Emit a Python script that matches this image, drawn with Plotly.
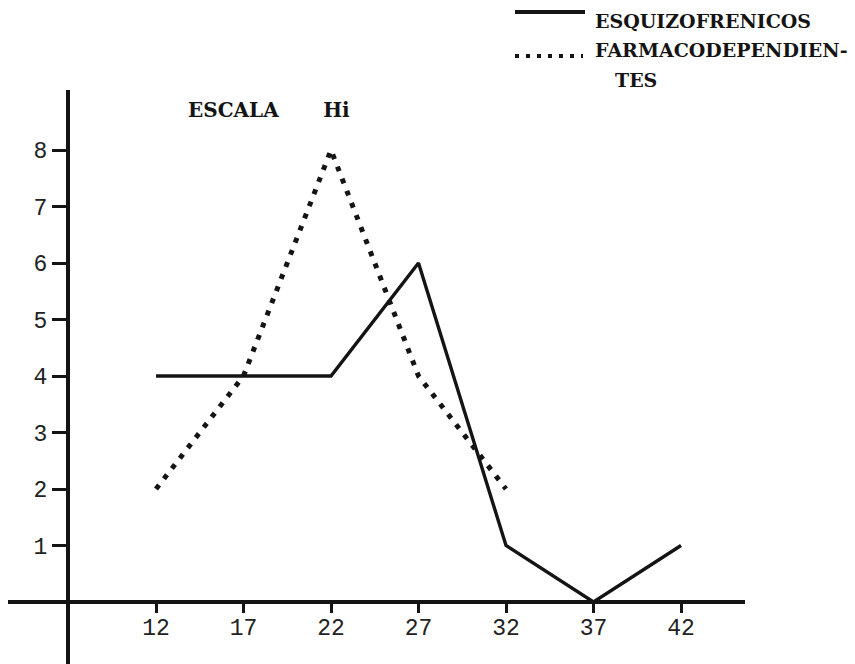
import plotly.graph_objects as go

# ---- data ----
edades = [12, 17, 22, 27, 32, 37, 42]              # x tick labels / categories
esquizofrenicos = [4, 4, 4, 6, 1, 0, 1]            # solid line
farma_x = [12, 17, 22, 27, 32]
farmacodependientes = [2, 4, 8, 4, 2]              # dotted line
y_ticks = [1, 2, 3, 4, 5, 6, 7, 8]

W, H = 855, 664

# pixel geometry of the hand-drawn axes (layout only)
px_x0, px_x1 = 8, 745        # horizontal axis extent (px)
px_ytop = 90                 # vertical axis top (px)
px_yaxis = 68                # vertical axis x position (px)
px_xaxis = 602               # horizontal axis y position (px)
sx = 17.5                    # px per x unit
sy = 56.5                    # px per y unit
x_ref_px = 156               # pixel of x = 12

x_range = [12 - (x_ref_px - px_x0) / sx, 12 + (px_x1 - x_ref_px) / sx]
y_range = [-(H - px_xaxis) / sy, (px_xaxis - px_ytop) / sy]

ink = "#141414"
digits_font = dict(family="Liberation Mono", size=23, color="#222222")
title_font = dict(family="DejaVu Serif", size=20, color=ink)
legend_font = dict(family="DejaVu Serif", size=19, color=ink)

fig = go.Figure()
fig.add_trace(go.Scatter(
    x=edades, y=esquizofrenicos, mode="lines", name="ESQUIZOFRENICOS",
    line=dict(color=ink, width=3.4), showlegend=False))
fig.add_trace(go.Scatter(
    x=farma_x, y=farmacodependientes, mode="lines", name="FARMACODEPENDIENTES",
    line=dict(color=ink, width=5, dash="5px,8px"), showlegend=False))

fig.update_layout(
    width=W, height=H,
    margin=dict(l=0, r=0, t=0, b=0, pad=0),
    paper_bgcolor="white", plot_bgcolor="white",
    showlegend=False,
    title=dict(text="<b>ESCALA</b>&nbsp;&nbsp;&nbsp;&nbsp;&nbsp;&nbsp;&nbsp;<b>Hi</b>",
               font=title_font, x=188 / W, xanchor="left",
               y=1 - 110 / H, yanchor="middle", xref="paper", yref="paper"),
    xaxis=dict(
        domain=[px_x0 / W, px_x1 / W], range=x_range,
        anchor="free", position=(H - px_xaxis) / H,
        showline=True, linecolor=ink, linewidth=4,
        ticks="outside", ticklen=9, tickwidth=3, tickcolor=ink,
        ticklabelstandoff=-6,
        tickvals=edades, ticktext=[str(v) for v in edades],
        tickfont=digits_font, showgrid=False, zeroline=False),
    yaxis=dict(
        domain=[0, (H - px_ytop) / H], range=y_range,
        anchor="free", position=px_yaxis / W,
        showline=True, linecolor=ink, linewidth=4,
        ticks="outside", ticklen=14, tickwidth=3, tickcolor=ink,
        tickvals=y_ticks, ticktext=[str(v) for v in y_ticks],
        tickfont=digits_font, showgrid=False, zeroline=False),
)

# legend drawn like the typed key in the top-right corner
fig.add_shape(type="line", xref="paper", yref="paper",
              x0=515 / W, x1=585 / W, y0=1 - 12 / H, y1=1 - 12 / H,
              line=dict(color=ink, width=4))
fig.add_shape(type="line", xref="paper", yref="paper",
              x0=515 / W, x1=583 / W, y0=1 - 56 / H, y1=1 - 56 / H,
              line=dict(color=ink, width=4, dash="4px,7px"))
for txt, x, y in [("ESQUIZOFRENICOS", 593, 21.5),
                  ("FARMACODEPENDIEN-", 593, 50),
                  ("TES", 613, 80)]:
    fig.add_annotation(text="<b>%s</b>" % txt, xref="paper", yref="paper",
                       x=x / W, y=1 - y / H, xanchor="left", yanchor="middle",
                       showarrow=False, font=legend_font)

fig.write_html("out.html", config={"displayModeBar": False},
               post_script="document.body.style.margin='0';document.body.style.padding='0';")
